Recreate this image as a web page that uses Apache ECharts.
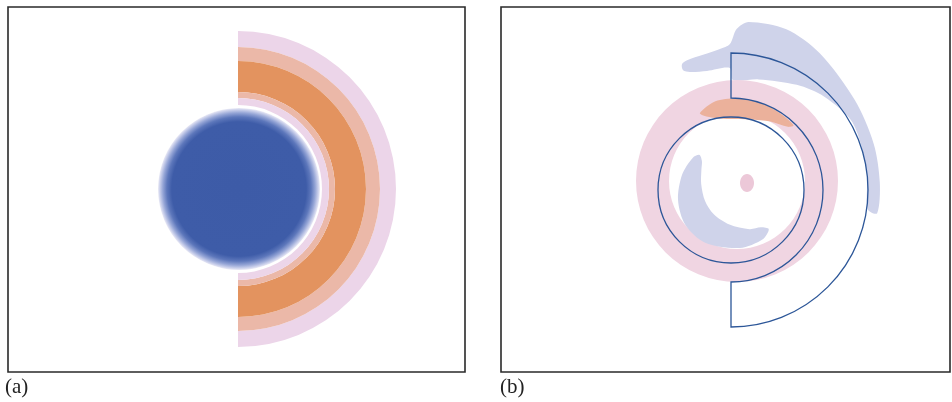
<!DOCTYPE html>
<html><head><meta charset="utf-8">
<script src="https://cdn.jsdelivr.net/npm/echarts@6/dist/echarts.min.js"></script>
<style>html,body{margin:0;padding:0;background:#fff}#c{width:952px;height:402px}</style>
</head><body><div id="c"></div>
<script>
// ---- data (data units = grid pixels, origin at each panel's top-left) ----
const panelLabels = ['(a)', '(b)'];
const panelSizeA = [457, 365];
const panelSizeB = [449, 365];

// Panel (a): blue disc [cx, cy, r] with radial colour stops [offset, color]
const blueDisc = [231, 182, 81];
const blueDiscStops = [
  [0, '#3d5ba7'], [0.83, '#3e5ca8'], [0.89, '#5d77bb'], [0.94, '#95a5d6'], [0.98, '#cdd2ec'], [1, '#ebebf6']
];
// Panel (a): half-annulus bands [cx, cy, r0, r, color]
const halfBands = [
  [230, 182, 142, 158, '#ecd5e9'],
  [230, 182, 128, 142, '#ebb8a8'],
  [230, 182, 97, 128, '#e3935f'],
  [230, 182, 91, 97, '#ebb8a8'],
  [230, 182, 84, 91, '#ecd5e9']
];

// Panel (b): filled regions, polar outlines [angleDeg, r] around a centre
const topBlueCenter = [230, 183];
const topBlueShape = [
  [111.3, 135], [108.7, 137], [101.7, 138], [94.5, 141.4], [90.4, 146], [88, 161], [84, 169], [71, 170], [57, 163],
  [36, 153], [18, 150], [3, 149], [-9, 148], [-8, 138], [8, 137], [29, 139],
  [45, 132], [58, 124], [76, 114], [89, 110], [90.5, 122], [101.4, 121.4], [109.2, 125], [111.8, 129]
];
const pinkRing = [236, 174, 68, 101, '#f0d5e2'];
const orangeCenter = [230, 183];
const orangeShape = [
  [112, 83], [100, 90], [85, 92], [70, 92], [58, 91], [46, 90],
  [48, 85], [60, 79], [75, 73], [90, 71], [103, 74], [110, 79]
];
const innerBlueCenter = [234, 186];
const innerBlueShape = [
  [133, 52], [140, 55], [161, 56], [187, 57.4], [212.6, 59], [239, 58], [275, 55.2], [301, 53.9], [313, 49.5],
  [307, 43], [292, 39], [260, 32], [225, 30], [195, 31], [165, 35], [145, 41], [136, 46]
];
const pinkDot = [246, 176, 7, 9, '#ecc8d8'];
// Panel (b): contour outlines
const circleOutline = [230, 183, 73];
const halfOutline = [230, 183, 92, 137];
const outlineColor = '#2c5698';

// ---- rendering ----
const chart = echarts.init(document.getElementById('c'), null, {renderer: 'canvas'});

function polarPoints(c, k, shape) {
  return shape.map(([a, r]) => {
    const t = a * Math.PI / 180;
    return [c[0] + r * k * Math.cos(t), c[1] - r * k * Math.sin(t)];
  });
}

const shapesA = [{kind: 'gradCircle', cx: blueDisc[0], cy: blueDisc[1], r: blueDisc[2], stops: blueDiscStops}];
halfBands.forEach(b => shapesA.push({kind: 'half', cx: b[0], cy: b[1], r0: b[2], r: b[3], color: b[4]}));

const shapesB = [
  {kind: 'poly', cx: topBlueCenter[0], cy: topBlueCenter[1], pts: topBlueShape, color: '#cfd3ea'},
  {kind: 'ring', cx: pinkRing[0], cy: pinkRing[1], r0: pinkRing[2], r: pinkRing[3], color: pinkRing[4]},
  {kind: 'poly', cx: orangeCenter[0], cy: orangeCenter[1], pts: orangeShape, color: '#ebb19b'},
  {kind: 'poly', cx: innerBlueCenter[0], cy: innerBlueCenter[1], pts: innerBlueShape, color: '#cfd3ea'},
  {kind: 'ellipse', cx: pinkDot[0], cy: pinkDot[1], rx: pinkDot[2], ry: pinkDot[3], color: pinkDot[4]},
  {kind: 'circleLine', cx: circleOutline[0], cy: circleOutline[1], r: circleOutline[2], color: outlineColor},
  {kind: 'halfLine', cx: halfOutline[0], cy: halfOutline[1], r0: halfOutline[2], r: halfOutline[3], color: outlineColor}
];

function makeRender(shapes) {
  return function (params, api) {
    const s = shapes[api.value(2)];
    const c = api.coord([api.value(0), api.value(1)]);
    const k = api.size([1, 1])[0];
    switch (s.kind) {
      case 'gradCircle':
        return {type: 'circle', shape: {cx: c[0], cy: c[1], r: s.r * k}, style: {
          fill: new echarts.graphic.RadialGradient(0.5, 0.5, 0.5, s.stops.map(([o, col]) => ({offset: o, color: col})))}};
      case 'half':
        return {type: 'sector', shape: {cx: c[0], cy: c[1], r0: s.r0 * k, r: s.r * k,
          startAngle: -Math.PI / 2, endAngle: Math.PI / 2, clockwise: true}, style: {fill: s.color}};
      case 'ring':
        return {type: 'ring', shape: {cx: c[0], cy: c[1], r0: s.r0 * k, r: s.r * k}, style: {fill: s.color}};
      case 'poly':
        return {type: 'polygon', shape: {points: polarPoints(c, k, s.pts), smooth: 0.3}, style: {fill: s.color}};
      case 'ellipse':
        return {type: 'ellipse', shape: {cx: c[0], cy: c[1], rx: s.rx * k, ry: s.ry * k}, style: {fill: s.color}};
      case 'circleLine':
        return {type: 'circle', shape: {cx: c[0], cy: c[1], r: s.r * k}, style: {fill: null, stroke: s.color, lineWidth: 1.3}};
      case 'halfLine':
        return {type: 'sector', shape: {cx: c[0], cy: c[1], r0: s.r0 * k, r: s.r * k,
          startAngle: -Math.PI / 2, endAngle: Math.PI / 2, clockwise: true},
          style: {fill: null, stroke: s.color, lineWidth: 1.3}};
    }
  };
}

function axisPair(idx, size) {
  return {
    x: {type: 'value', gridIndex: idx, min: 0, max: size[0], show: false},
    y: {type: 'value', gridIndex: idx, min: 0, max: size[1], inverse: true, show: false}
  };
}
const axA = axisPair(0, panelSizeA), axB = axisPair(1, panelSizeB);

chart.setOption({
  animation: false,
  backgroundColor: '#fff',
  grid: [
    {left: 8, top: 7, width: panelSizeA[0], height: panelSizeA[1], show: true, borderColor: '#2a2a2a', borderWidth: 1.6, backgroundColor: '#fff'},
    {left: 501, top: 7, width: panelSizeB[0], height: panelSizeB[1], show: true, borderColor: '#2a2a2a', borderWidth: 1.6, backgroundColor: '#fff'}
  ],
  xAxis: [axA.x, axB.x],
  yAxis: [axA.y, axB.y],
  series: [
    {type: 'custom', xAxisIndex: 0, yAxisIndex: 0, renderItem: makeRender(shapesA), clip: true,
     data: shapesA.map((s, i) => [s.cx, s.cy, i]), silent: true},
    {type: 'custom', xAxisIndex: 1, yAxisIndex: 1, renderItem: makeRender(shapesB), clip: true,
     data: shapesB.map((s, i) => [s.cx, s.cy, i]), silent: true}
  ],
  graphic: [
    {type: 'text', left: 5, top: 377, style: {text: panelLabels[0], font: '21px "Liberation Serif", serif', fill: '#222'}},
    {type: 'text', left: 500, top: 377, style: {text: panelLabels[1], font: '21px "Liberation Serif", serif', fill: '#222'}}
  ]
});
</script></body></html>
